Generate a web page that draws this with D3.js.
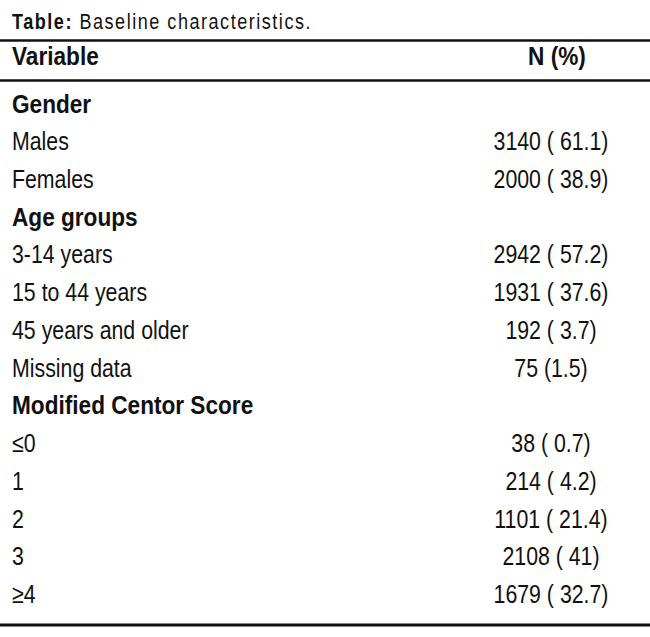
<!DOCTYPE html>
<html>
    <head>
        <title>Baseline characteristics</title>
        <script src="https://d3js.org/d3.v7.min.js"></script>
        <style>
            body { margin: 0; background: #fff; }
            text { font-family: "Liberation Sans", Arial, sans-serif; fill: #111; }
        </style>
    </head>
    <body>
        <svg width="650" height="637"></svg>
        <script>
            // table contents
            const labels = [
                "Gender", "Males", "Females",
                "Age groups", "3-14 years", "15 to 44 years", "45 years and older", "Missing data",
                "Modified Centor Score", "≤0", "1", "2", "3", "≥4"
            ];
            const values = [
                "", "3140 ( 61.1)", "2000 ( 38.9)",
                "", "2942 ( 57.2)", "1931 ( 37.6)", "192 ( 3.7)", "75 (1.5)",
                "", "38 ( 0.7)", "214 ( 4.2)", "1101 ( 21.4)", "2108 ( 41)", "1679 ( 32.7)"
            ];
            const groupRows = ["Gender", "Age groups", "Modified Centor Score"];
            const headers = ["Variable", "N (%)"];

            const svg = d3.select("svg"),
                width = +svg.attr("width");

            // condensed look: squeeze text horizontally
            const narrow = 0.82,
                narrowBold = 0.87;
            const fit = (x, y, s) => `translate(${x},${y}) scale(${s},1)`;

            // row positions (baselines)
            const y = d3.scaleLinear().domain([0, labels.length - 1]).range([112.5, 603]);

            // title
            const title = svg.append("text")
                .attr("transform", fit(12, 29, narrow))
                .style("font-size", "22px");
            title.append("tspan").style("font-weight", "bold").text("Table:");
            title.append("tspan").text(" Baseline characteristics.");
            // spread letters so the caption spans the same width as the original
            const tw = title.node().getComputedTextLength(),
                nChars = "Table: Baseline characteristics.".length;
            title.style("letter-spacing", `${Math.max(0, (300 / narrow - tw) / nChars)}px`);

            // rules
            const rules = [
                { y: 40.5, w: 2.5 },
                { y: 80.5, w: 2.5 },
                { y: 625, w: 3 }
            ];
            svg.selectAll("line.rule")
                .data(rules)
                .join("line")
                .attr("class", "rule")
                .attr("x1", 0)
                .attr("x2", width)
                .attr("y1", (d) => d.y)
                .attr("y2", (d) => d.y)
                .attr("stroke", "#111")
                .attr("stroke-width", (d) => d.w);

            // header
            svg.append("text")
                .attr("transform", fit(12, 65, narrowBold))
                .style("font-size", "26px").style("font-weight", "bold")
                .text(headers[0]);
            svg.append("text")
                .attr("transform", fit(557, 65, narrowBold))
                .attr("text-anchor", "middle")
                .style("font-size", "26px").style("font-weight", "bold")
                .text(headers[1]);

            // body rows
            const rows = svg.selectAll("g.row")
                .data(labels.map((l, i) => ({ label: l, value: values[i] })))
                .join("g")
                .attr("class", "row")
                .attr("transform", (d, i) => `translate(0,${y(i)})`);

            rows.append("text")
                .attr("transform", (d) => fit(12, 0, groupRows.includes(d.label) ? narrowBold : narrow))
                .style("font-size", "26px")
                .style("font-weight", (d) => groupRows.includes(d.label) ? "bold" : "normal")
                .text((d) => d.label);

            rows.append("text")
                .attr("transform", fit(551, 0, narrow))
                .attr("text-anchor", "middle")
                .style("font-size", "26px")
                .text((d) => d.value);
        </script>
    </body>
</html>
